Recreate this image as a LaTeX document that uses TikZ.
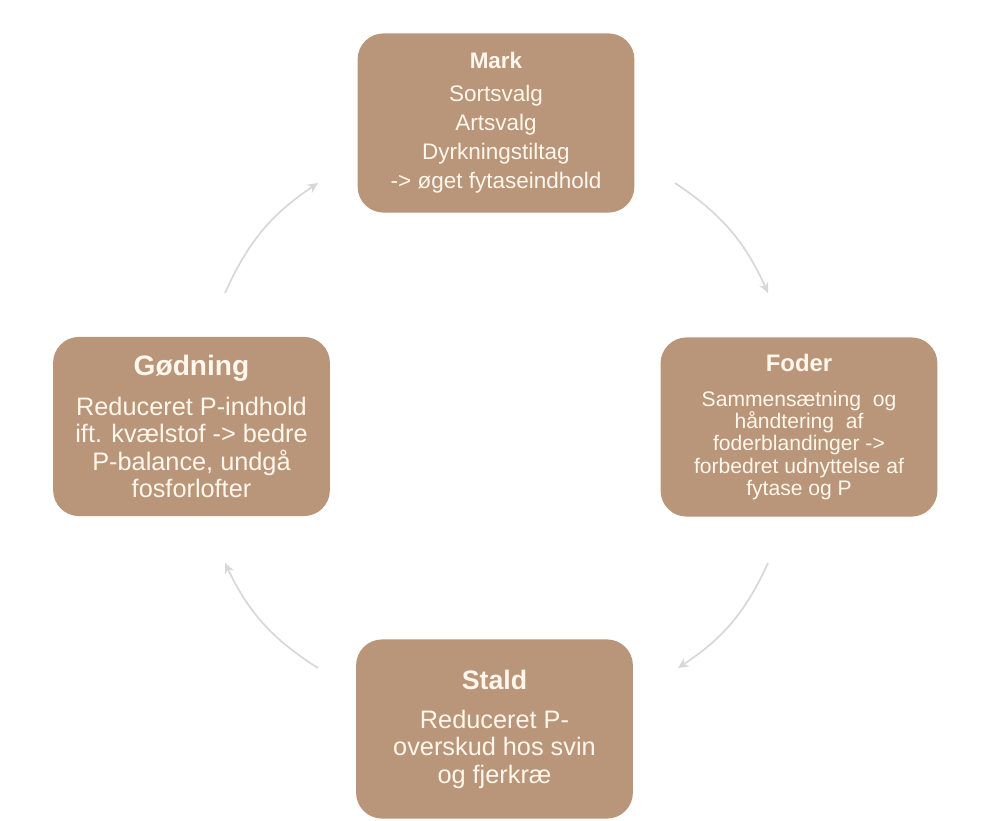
\documentclass[tikz,border=0pt]{standalone}
\usepackage{fontspec}
\setmainfont{Liberation Sans}
\usepackage{tikz}
\usetikzlibrary{positioning,arrows.meta}
\definecolor{boxbrun}{RGB}{185,149,121}
\definecolor{boxtekst}{RGB}{255,247,236}
\definecolor{pilgraa}{RGB}{216,214,214}
\tikzset{
  cyc_box/.style = {rectangle, rounded corners=6.5mm, fill=boxbrun,
    text=boxtekst, align=center, inner sep=0pt,
    minimum width=69.2mm, minimum height=44.8mm},
  cyc_m/.style = {cyc_box, font=\fontsize{16}{20.6}\selectfont},% mark
  cyc_f/.style = {cyc_box, font=\fontsize{15}{15.8}\selectfont},% foder
  cyc_g/.style = {cyc_box, font=\fontsize{18}{19.3}\selectfont},% godning, stald
  cyc_arr/.style = {-{Stealth[length=2.6mm,width=2.4mm]}, draw=pilgraa,
    line width=1.2pt, bend left=16}
}

\begin{document}
\begin{tikzpicture}[x=0.25mm, y=-0.25mm]
\useasboundingbox (0,0) rectangle (981,820);
% kredsloebet
\node [cyc_m] (mark) at (496,123)
  {{\bfseries Mark}\\[3pt] Sortsvalg\\ Artsvalg\\ Dyrkningstiltag\\ -> øget fytaseindhold};
\node [cyc_f] (foder) at (799,427)
  {{\fontsize{17}{18}\selectfont\bfseries Foder}\\[9pt] Sammensætning\ \ og\\ håndtering\ \ af\\
   foderblandinger ->\\ forbedret udnyttelse af\\ fytase og P};
\node [cyc_g] (stald) at (494.5,729)
  {{\fontsize{19}{20}\selectfont\bfseries Stald}\\[9pt] Reduceret P-\\ overskud hos svin\\ og fjerkræ};
\node [cyc_g] (godning) at (191.5,426.5)
  {{\fontsize{20}{21}\selectfont\bfseries Gødning}\\[9pt] Reduceret P-indhold\\ ift. kvælstof -> bedre\\
   P-balance, undgå\\ fosforlofter};

\coordinate (mf1) at (675,183);  \coordinate (mf2) at (768,293);
\coordinate (fs1) at (768,563);  \coordinate (fs2) at (678,668);
\coordinate (sg1) at (318,668);  \coordinate (sg2) at (225,563);
\coordinate (gm1) at (225,293);  \coordinate (gm2) at (318,183);

\draw [cyc_arr] (mf1) to (mf2);
\draw [cyc_arr] (fs1) to (fs2);
\draw [cyc_arr] (sg1) to (sg2);
\draw [cyc_arr] (gm1) to (gm2);
\end{tikzpicture}
\end{document}
